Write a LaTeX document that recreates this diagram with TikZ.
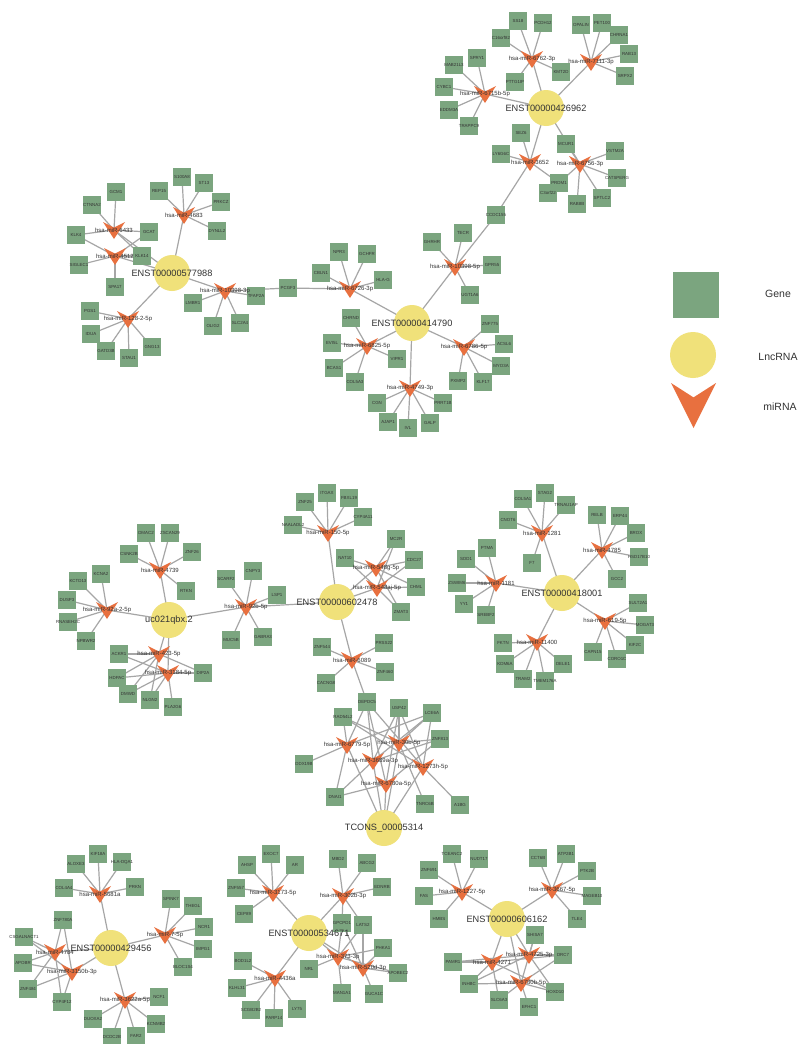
\documentclass[tikz,border=0pt]{standalone}
\usepackage{fontspec}
\setmainfont{Liberation Sans}
\pgfdeclarelayer{bg}
\pgfsetlayers{bg,main}
\definecolor{genec}{HTML}{7BA57F}
\definecolor{lncc}{HTML}{F0E17A}
\definecolor{mirc}{HTML}{E8703F}
\definecolor{edgec}{HTML}{A6A6A6}
\definecolor{txtc}{HTML}{333333}
\tikzset{
 gene/.style={rectangle,fill=genec,minimum size=18.5pt,inner sep=0pt},
 gtxt/.style={inner sep=0pt,font=\fontsize{4.4}{5}\selectfont,text=txtc},
 lnc/.style={circle,fill=lncc,minimum size=36pt,inner sep=0pt},
 ltxt/.style={inner sep=0pt,font=\fontsize{9.2}{11}\selectfont,text=txtc},
 mtxt/.style={inner sep=0pt,font=\fontsize{6}{7}\selectfont,text=txtc},
 mdot/.style={inner sep=0pt,minimum size=1pt},
 legt/.style={inner sep=0pt,font=\fontsize{10.5}{12}\selectfont,text=txtc},
 edge/.style={draw=edgec,line width=1.2pt},
 pics/mirna/.style={code={\fill[mirc] (-11,-8) -- (0,-2.5) -- (11,-8) -- (0,9) -- cycle;}},
}
\newcommand\ED[2]{\foreach \q in {#2} {\draw[edge] (#1.center) -- (\q.center);}}
\newcommand\genelist{%
\GN{SS18}{518,21}\GN{PCDH12}{543,23}\GN{C16orf82}{501,38}\GN{PTTG1IP}{515,82}\GN{KMT2D}{561,72}%
\GN{OPALIN}{581,25}\GN{PET100}{602,23}\GN{CHRNA1}{619,35}\GN{RAB13}{629,54}\GN{SRPX2}{625,76}%
\GN{SPRY1}{477,58}\GN{MAB21L3}{454,65}\GN{CYBC1}{444,87}\GN{EDDM3A}{449,110}\GN{TRAPPC9}{469,126}%
\GN{SEZ6}{521,133}\GN{LY6G6C}{501,154}\GN{PRDM1}{559,183}\GN{C3orf22}{548,193}\GN{CCDC155}{496,215}%
\GN{MCUR1}{566,144}\GN{VSTM2A}{615,151}\GN{CATSPERG}{617,178}\GN{SPTLC2}{602,198}\GN{RAB8B}{577,204}%
\GN{GCM1}{116,192}\GN{CTNNA2}{92,205}\GN{KLK4}{76,235}\GN{GCAT}{149,232}\GN{KLK14}{142,256}\GN{SIGLEC1}{79,265}\GN{SPA17}{115,287}%
\GN{REP15}{159,191}\GN{S100A8}{182,177}\GN{ST13}{204,183}\GN{PRKCZ}{221,202}\GN{DYNLL2}{217,231}%
\GN{LMBR1}{193,303}\GN{OLIG2}{213,326}\GN{SLC2A4}{240,323}\GN{TFAP2A}{256,296}\GN{PCGF3}{288,288}%
\GN{PGS1}{90,311}\GN{IDUA}{91,334}\GN{GATD3B}{106,351}\GN{STAU1}{129,358}\GN{GNG13}{152,347}%
\GN{NPR3}{339,252}\GN{GCHFR}{367,254}\GN{CBLN1}{321,273}\GN{HLA-G}{383,280}%
\GN{GHRHR}{432,242}\GN{TECR}{463,233}\GN{GPR55}{492,265}\GN{UGT1A6}{470,295}%
\GN{CHRND}{351,318}\GN{EVI5L}{332,343}\GN{BCAS1}{334,368}\GN{COL5A3}{355,382}\GN{VIPR1}{397,359}%
\GN{ZNF775}{490,324}\GN{ACSL6}{504,344}\GN{MYO3A}{501,366}\GN{KLF17}{483,382}\GN{PXMP2}{458,381}%
\GN{CGN}{377,403}\GN{AJAP1}{388,422}\GN{IVL}{408,428}\GN{GALP}{430,423}\GN{PRRT1B}{443,403}%
\GN{DMAC2}{146,533}\GN{ZSCAN29}{170,533}\GN{CSNK2B}{129,554}\GN{ZNF26}{192,552}\GN{RTKN}{186,591}%
\GN{KCNA2}{101,574}\GN{KCTD13}{78,581}\GN{DUSP3}{67,600}\GN{RNASEH2C}{68,622}\GN{NPBWR2}{86,641}%
\GN{SCARF2}{226,579}\GN{CNPY3}{253,571}\GN{LSP1}{277,595}\GN{MUC5B}{231,640}\GN{GABRA3}{263,637}%
\GN{ACKR1}{119,654}\GN{HDPAC}{117,678}\GN{DMWD}{128,694}\GN{NLGN2}{150,700}\GN{PLA2G6}{173,707}\GN{DIP2A}{203,673}%
\GN{ZNF25}{305,502}\GN{ITGAX}{327,493}\GN{FBXL19}{349,498}\GN{CYP4A11}{363,517}\GN{NAALADL2}{293,525}%
\GN{MC2R}{396,539}\GN{NAT10}{345,558}\GN{CDC27}{414,560}\GN{CHML}{416,587}\GN{ZMAT3}{401,612}%
\GN{ZNF544}{322,647}\GN{PRSS22}{384,643}\GN{ZNF460}{385,672}\GN{CACNG8}{326,683}\GN{DEPDC5}{367,702}%
\GN{COL5A1}{523,499}\GN{STAG2}{545,493}\GN{TRNAU1AP}{566,505}\GN{CNOT6}{508,520}\GN{F7}{532,563}%
\GN{RELB}{597,515}\GN{ERP44}{620,516}\GN{BROX}{636,533}\GN{HSD17B10}{639,557}\GN{GCC2}{617,579}%
\GN{PTMA}{487,548}\GN{SOD1}{466,559}\GN{ZSWIM6}{457,583}\GN{YY1}{464,604}\GN{SREBF2}{486,615}%
\GN{SULT2A1}{638,603}\GN{MOGAT3}{645,625}\GN{KIF2C}{635,645}\GN{CORO1C}{617,659}\GN{CAPN15}{593,652}%
\GN{FKTN}{503,643}\GN{KDM6A}{505,664}\GN{TRAM2}{523,679}\GN{TMEM176A}{545,681}\GN{DELE1}{563,664}%
\GN{USP42}{399,708}\GN{LCE6A}{432,713}\GN{RAD54L2}{343,717}\GN{ZNF813}{440,739}\GN{DDX19B}{304,764}%
\GN{DNAI1}{335,797}\GN{TNRC6B}{425,804}\GN{A1BG}{460,805}%
\GN{ALOXE3}{76,864}\GN{KIF18A}{98,854}\GN{HLA-DQA1}{122,862}\GN{COL4A4}{64,888}\GN{PRKN}{135,887}%
\GN{SPINK7}{171,899}\GN{THEGL}{193,906}\GN{NCR1}{204,927}\GN{IMPG1}{203,949}\GN{BLOC1S4}{183,967}%
\GN{ZNF780A}{63,920}\GN{CSGALNACT1}{24,937}\GN{APOBR}{23,963}\GN{ZNF484}{28,989}\GN{CYP4F12}{62,1002}%
\GN{NCF1}{159,997}\GN{KCNMB2}{156,1024}\GN{FAR2}{136,1036}\GN{DCDC2B}{112,1037}\GN{DUOXA2}{93,1019}%
\GN{AHSP}{247,865}\GN{EXOC7}{271,854}\GN{AR}{295,865}\GN{ZNF557}{236,888}\GN{CEP89}{244,914}%
\GN{MBD2}{338,859}\GN{ABCG2}{367,863}\GN{EDNRB}{382,887}\GN{GPCPD1}{342,923}\GN{LATS2}{363,925}%
\GN{PHKA1}{383,948}\GN{APOBEC2}{398,973}\GN{GUCA1C}{374,994}\GN{MAN1A1}{342,993}\GN{NRL}{309,969}%
\GN{BOD1L2}{243,961}\GN{KLHL31}{237,988}\GN{SCGB2B2}{251,1010}\GN{PARP14}{274,1018}\GN{LY75}{297,1009}%
\GN{TCEANC2}{452,854}\GN{NUDT17}{479,859}\GN{ZNF691}{429,870}\GN{FAS}{424,896}\GN{HMBS}{439,919}%
\GN{CCT6B}{538,858}\GN{ATP2B1}{566,854}\GN{PTK2B}{587,871}\GN{MAGEB10}{592,896}\GN{TLE4}{577,919}%
\GN{SHISA7}{535,935}\GN{DRC7}{563,955}\GN{PAMR1}{453,962}\GN{INHBC}{469,984}\GN{SLC6A3}{499,1000}\GN{EFHC1}{529,1007}\GN{HOXD10}{555,992}%
}
\newcommand\mirlist{%
\MR{mA1}{532,59}{hsa-miR-6762-3p}\MR{mA2}{591,62}{hsa-miR-7111-3p}\MR{mA3}{485,94}{hsa-miR-6715b-5p}%
\MR{mA4}{530,162}{hsa-miR-3652}\MR{mA5}{580,164}{hsa-miR-6756-3p}%
\MR{mB1}{114,230}{hsa-miR-6433}\MR{mB2}{115,256}{hsa-miR-4512}\MR{mB3}{184,215}{hsa-miR-4683}%
\MR{mB4}{225,291}{hsa-miR-10398-3p}\MR{mB5}{128,319}{hsa-miR-128-2-5p}%
\MR{mC1}{350,289}{hsa-miR-6726-3p}\MR{mC2}{455,267}{hsa-miR-10398-5p}\MR{mC3}{367,346}{hsa-miR-6825-5p}%
\MR{mC4}{464,347}{hsa-miR-6786-5p}\MR{mC5}{410,388}{hsa-miR-4749-3p}%
\MR{mD1}{160,570}{hsa-miR-4739}\MR{mD2}{107,610}{hsa-miR-92a-2-5p}\MR{mD3}{246,607}{hsa-miR-92b-5p}%
\MR{mD4}{159,654}{hsa-miR-423-5p}\MR{mD5}{168,673}{hsa-miR-3184-5p}%
\MR{mE1}{328,533}{hsa-miR-150-5p}\MR{mE2}{376,568}{hsa-miR-548g-5p}\MR{mE3}{377,588}{hsa-miR-548aj-5p}%
\MR{mE4}{352,660}{hsa-miR-6089}%
\MR{mF1}{542,533}{hsa-miR-1281}\MR{mF2}{602,550}{hsa-miR-4785}\MR{mF3}{496,583}{hsa-miR-1181}%
\MR{mF4}{605,621}{hsa-miR-619-5p}\MR{mF5}{537,642}{hsa-miR-11400}%
\MR{mG1}{347,745}{hsa-miR-6779-5p}\MR{mG2}{399,743}{hsa-miR-30b-5p}\MR{mG3}{373,761}{hsa-miR-3689a-3p}%
\MR{mG4}{423,767}{hsa-miR-1273h-5p}\MR{mG5}{386,784}{hsa-miR-6780a-5p}%
\MR{mH1}{100,894}{hsa-miR-5681a}\MR{mH2}{165,935}{hsa-miR-7-5p}\MR{mH3}{55,952}{hsa-miR-4784}%
\MR{mH4}{72,972}{hsa-miR-3150b-3p}\MR{mH5}{125,1000}{hsa-miR-3622a-5p}%
\MR{mI1}{273,893}{hsa-miR-3173-5p}\MR{mI2}{343,896}{hsa-miR-302b-3p}\MR{mI3}{275,978}{hsa-miR-4436a}%
\MR{mI4}{338,957}{hsa-miR-373-3p}\MR{mI5}{363,968}{hsa-miR-520d-3p}%
\MR{mJ1}{462,892}{hsa-miR-1227-5p}\MR{mJ2}{552,890}{hsa-miR-3667-5p}\MR{mJ3}{529,955}{hsa-miR-4725-3p}%
\MR{mJ4}{492,962}{hsa-miR-4271}\MR{mJ5}{521,983}{hsa-miR-6780b-5p}%
}
\newcommand\lnclist{%
\LN{LA}{546,108}{ENST00000426962}%
\LN{LB}{172,273}{ENST00000577988}%
\LN{LC}{412,323}{ENST00000414790}%
\LN{LD}{169,620}{uc021qbx.2}%
\LN{LE}{337,602}{ENST00000602478}%
\LN{LF}{562,593}{ENST00000418001}%
\LN{LG}{384,828}{TCONS\_00005314}%
\LN{LH}{111,948}{ENST00000429456}%
\LN{LI}{309,933}{ENST00000534671}%
\LN{LJ}{507,919}{ENST00000606162}%
}
\begin{document}
\begin{tikzpicture}[x=1pt,y=-1pt]
\useasboundingbox (0,0) rectangle (799,1044);
% shapes
\newcommand\GN[2]{\node[gene] (g#1) at (#2) {};}
\genelist
\newcommand\MR[3]{\pic at (#2) {mirna};\node[mdot] (#1) at (#2) {};}
\mirlist
\newcommand\LN[3]{\node[lnc] (#1) at (#2) {};}
\lnclist
% texts on top
\renewcommand\GN[2]{\node[gtxt] (t#1) at (#2) {#1};}
\genelist
\renewcommand\MR[3]{\node[mtxt] (#1t) at (#2) {#3};}
\mirlist
\renewcommand\LN[3]{\node[ltxt] (#1t) at (#2) {#3};}
\lnclist
% ---------- edges ----------
\begin{pgfonlayer}{bg}
\fill[white] (0,0) rectangle (799,1044);
\ED{LA}{mA1,mA2,mA3,mA4,mA5}
\ED{mA1}{gSS18,gPCDH12,gC16orf82,gPTTG1IP,gKMT2D}
\ED{mA2}{gOPALIN,gPET100,gCHRNA1,gRAB13,gSRPX2}
\ED{mA3}{gSPRY1,gMAB21L3,gCYBC1,gEDDM3A,gTRAPPC9}
\ED{mA4}{gSEZ6,gLY6G6C,gPRDM1,gCCDC155}
\ED{mA5}{gMCUR1,gVSTM2A,gCATSPERG,gSPTLC2,gRAB8B,gC3orf22}
\ED{LB}{mB1,mB2,mB3,mB4,mB5}
\ED{mB1}{gGCM1,gCTNNA2,gKLK4,gGCAT,gKLK14}
\ED{mB2}{gKLK4,gSIGLEC1,gSPA17,gGCAT,gKLK14}
\ED{mB3}{gREP15,gS100A8,gST13,gPRKCZ,gDYNLL2}
\ED{mB4}{gLMBR1,gOLIG2,gSLC2A4,gTFAP2A,gPCGF3}
\ED{mB5}{gPGS1,gIDUA,gGATD3B,gSTAU1,gGNG13}
\ED{LC}{mC1,mC2,mC3,mC4,mC5}
\ED{mC1}{gNPR3,gGCHFR,gCBLN1,gHLA-G,gPCGF3}
\ED{mC2}{gGHRHR,gTECR,gGPR55,gUGT1A6,gCCDC155}
\ED{mC3}{gCHRND,gEVI5L,gBCAS1,gCOL5A3,gVIPR1}
\ED{mC4}{gZNF775,gACSL6,gMYO3A,gKLF17,gPXMP2}
\ED{mC5}{gCGN,gAJAP1,gIVL,gGALP,gPRRT1B}
\ED{LD}{mD1,mD2,mD3,mD4,mD5}
\ED{mD1}{gDMAC2,gZSCAN29,gCSNK2B,gZNF26,gRTKN}
\ED{mD2}{gKCNA2,gKCTD13,gDUSP3,gRNASEH2C,gNPBWR2}
\ED{mD3}{gSCARF2,gCNPY3,gLSP1,gMUC5B,gGABRA3,LE}
\ED{mD4}{gACKR1,gHDPAC,gDMWD,gNLGN2,gDIP2A}
\ED{mD5}{gACKR1,gHDPAC,gDMWD,gNLGN2,gPLA2G6,gDIP2A}
\ED{LE}{mE1,mE2,mE3,mE4}
\ED{mE1}{gZNF25,gITGAX,gFBXL19,gCYP4A11,gNAALADL2}
\ED{mE2}{gMC2R,gNAT10,gCDC27,gCHML,gZMAT3}
\ED{mE3}{gMC2R,gNAT10,gCDC27,gCHML,gZMAT3}
\ED{mE4}{gZNF544,gPRSS22,gZNF460,gCACNG8,gDEPDC5}
\ED{LF}{mF1,mF2,mF3,mF4,mF5}
\ED{mF1}{gCOL5A1,gSTAG2,gTRNAU1AP,gCNOT6,gF7}
\ED{mF2}{gRELB,gERP44,gBROX,gHSD17B10,gGCC2}
\ED{mF3}{gPTMA,gSOD1,gZSWIM6,gYY1,gSREBF2}
\ED{mF4}{gSULT2A1,gMOGAT3,gKIF2C,gCORO1C,gCAPN15}
\ED{mF5}{gFKTN,gKDM6A,gTRAM2,gTMEM176A,gDELE1}
\ED{LG}{mG1,mG2,mG3,mG4,mG5}
\ED{mG1}{gDEPDC5,gRAD54L2,gDDX19B,gDNAI1,gLCE6A}
\ED{mG2}{gUSP42,gLCE6A,gZNF813,gTNRC6B,gRAD54L2}
\ED{mG3}{gDEPDC5,gUSP42,gLCE6A,gDNAI1,gZNF813}
\ED{mG4}{gUSP42,gLCE6A,gRAD54L2,gA1BG,gDEPDC5}
\ED{mG5}{gDEPDC5,gUSP42,gZNF813,gDNAI1}
\ED{LH}{mH1,mH2,mH3,mH4,mH5}
\ED{mH1}{gALOXE3,gKIF18A,gHLA-DQA1,gCOL4A4,gPRKN}
\ED{mH2}{gSPINK7,gTHEGL,gNCR1,gIMPG1,gBLOC1S4}
\ED{mH3}{gZNF780A,gCSGALNACT1,gAPOBR,gZNF484,gCYP4F12}
\ED{mH4}{gZNF780A,gCSGALNACT1,gAPOBR,gZNF484,gCYP4F12}
\ED{mH5}{gNCF1,gKCNMB2,gFAR2,gDCDC2B,gDUOXA2}
\ED{LI}{mI1,mI2,mI3,mI4,mI5}
\ED{mI1}{gAHSP,gEXOC7,gAR,gZNF557,gCEP89}
\ED{mI2}{gMBD2,gABCG2,gEDNRB,gGPCPD1,gLATS2}
\ED{mI3}{gBOD1L2,gKLHL31,gSCGB2B2,gPARP14,gLY75}
\ED{mI4}{gGPCPD1,gLATS2,gPHKA1,gAPOBEC2,gMAN1A1,gNRL}
\ED{mI5}{gGPCPD1,gLATS2,gPHKA1,gAPOBEC2,gGUCA1C}
\ED{LJ}{mJ1,mJ2,mJ3,mJ4,mJ5}
\ED{mJ1}{gTCEANC2,gNUDT17,gZNF691,gFAS,gHMBS}
\ED{mJ2}{gCCT6B,gATP2B1,gPTK2B,gMAGEB10,gTLE4}
\ED{mJ3}{gSHISA7,gDRC7,gPAMR1,gINHBC,gHOXD10}
\ED{mJ4}{gPAMR1,gINHBC,gSLC6A3,gDRC7,gHOXD10}
\ED{mJ5}{gSHISA7,gINHBC,gSLC6A3,gEFHC1,gHOXD10,gDRC7}
\end{pgfonlayer}
% ---------- legend ----------
\node[gene,minimum size=46pt] (lgG) at (696,295) {};
\node[lnc,minimum size=46pt] (lgL) at (693,355) {};
\fill[mirc] (671,383) -- (693.5,397.4) -- (716,383) -- (693.5,428) -- cycle;
\node[legt] (lgGt) at (778,294) {Gene};
\node[legt] (lgLt) at (778,357) {LncRNA};
\node[legt] (lgMt) at (780,407) {miRNA};
\end{tikzpicture}
\end{document}
